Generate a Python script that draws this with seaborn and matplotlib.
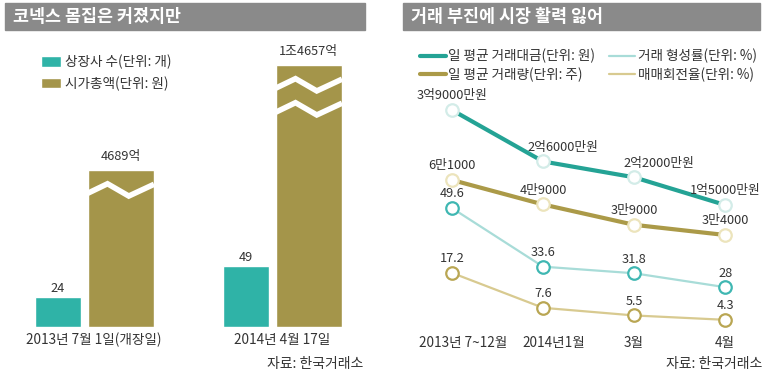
import numpy as np
import pandas as pd
import seaborn as sns
import matplotlib.pyplot as plt
from matplotlib.patches import Rectangle, Patch
from matplotlib.lines import Line2D
from matplotlib import transforms

sns.set_theme(style='white')
plt.rcParams['font.family'] = ['Noto Sans CJK KR', 'DejaVu Sans']

#%%-----------------------------------------------------------------------
# data - left panel (bars)
dates = ['2013년 7월 1일(개장일)', '2014년 4월 17일']
listed = [24, 49]                  # 개
mcap = [4689, 14657]               # 억원
mcap_labels = ['4689억', '1조4657억']

# data - right panel (lines)
periods = ['2013년 7~12월', '2014년1월', '3월', '4월']
trade_value = [39000, 26000, 22000, 15000]      # 만원
trade_value_labels = ['3억9000만원', '2억6000만원', '2억2000만원', '1억5000만원']
trade_volume = [61000, 49000, 39000, 34000]     # 주
trade_volume_labels = ['6만1000', '4만9000', '3만9000', '3만4000']
form_rate = [49.6, 33.6, 31.8, 28]              # %
turnover = [17.2, 7.6, 5.5, 4.3]                # %

#%%-----------------------------------------------------------------------
# colours / sizes
TEAL = '#2fb3a7'
GOLD = '#a4954a'
TEAL_DARK = '#24a395'
TEAL_LIGHT = '#a8dcd8'
GOLD_LINE = '#ab9a48'
GOLD_LIGHT = '#d8ca90'
GREY = '#8a8a8a'
TXT = '#333333'
FS_TICK = 9.8
FS_VAL = 9.2
FS_LEG = 9.8

W, H = 767, 373
fig = plt.figure(figsize=(W / 100, H / 100), dpi=100)


def fbox(x0, y0, x1, y1):
    # pixel box (origin top-left) -> figure fraction rect
    return [x0 / W, 1 - y1 / H, (x1 - x0) / W, (y1 - y0) / H]


def real_bars(a):
    # bars drawn by seaborn, left to right
    bars = [p for p in a.patches if isinstance(p, Rectangle) and p.get_height() > 0]
    return sorted(bars, key=lambda p: p.get_x())


# title bars
for x0, x1, title in [(5, 365, '코넥스 몸집은 커졌지만'), (403, 760, '거래 부진에 시장 활력 잃어')]:
    fig.patches.append(Rectangle((x0 / W, 1 - 30 / H), (x1 - x0) / W, 27 / H,
                                 transform=fig.transFigure, color=GREY, zorder=0))
    fig.text((x0 + 8) / W, 1 - 16.5 / H, title, color='white', fontsize=12.5,
             fontweight='bold', va='center', ha='left')

#%%-----------------------------------------------------------------------
# left panel: bar chart (gold bars on a compressed, "broken" scale)
ax = fig.add_axes(fbox(0, 60, 376, 327))
ax2 = ax.twinx()
hue_order = ['상장사 수', '시가총액']
pal = {'상장사 수': TEAL, '시가총액': GOLD}

df_cnt = pd.DataFrame({'date': dates, 'series': '상장사 수', 'value': listed})
df_cap = pd.DataFrame({'date': dates, 'series': '시가총액', 'value': mcap})

sns.barplot(data=df_cnt, x='date', y='value', hue='series', hue_order=hue_order,
            order=dates, palette=pal, width=0.72, gap=0.06, dodge=True,
            saturation=1, legend=False, ax=ax)
sns.barplot(data=df_cap, x='date', y='value', hue='series', hue_order=hue_order,
            order=dates, palette=pal, width=0.72, gap=0.06, dodge=True,
            saturation=1, legend=False, ax=ax2)

PW = 0.45
ax2.set_yscale('function', functions=(lambda v: np.power(np.clip(v, 0, None), PW),
                                      lambda v: np.power(np.clip(v, 0, None), 1 / PW)))
ax.set_ylim(0, 214)
ax2.set_ylim(0, 15290)
ax.set_xlim(-0.5, 1.5)

cnt_bars = real_bars(ax)
cap_bars = real_bars(ax2)

# teal bars are narrower than the gold ones, gold sits closer to teal
for p in cnt_bars:
    w = p.get_width()
    p.set_width(w * 0.72)
    p.set_x(p.get_x() + w * 0.1)
for p in cap_bars:
    p.set_x(p.get_x() - 0.045)
    p.set_width(p.get_width() + 0.015)

for a, bars, labs, pad in [(ax, cnt_bars, [str(v) for v in listed], 1.5),
                           (ax2, cap_bars, mcap_labels, 5)]:
    for p, lab in zip(bars, labs):
        a.annotate(lab, (p.get_x() + p.get_width() / 2, p.get_height()),
                   xytext=(0, pad), textcoords='offset points', ha='center',
                   va='bottom', fontsize=FS_VAL, color=TXT, annotation_clip=False)

# white zig-zag "break" marks on the gold bars
trans = transforms.blended_transform_factory(ax2.transData, ax2.transAxes)
for bar, n in zip(cap_bars, [1, 2]):
    x0, w, h = bar.get_x(), bar.get_width(), bar.get_height()
    top = ax2.transAxes.inverted().transform(ax2.transData.transform((x0, h)))[1]
    for k in range(n):
        yc = top - (0.075 + 0.09 * k)
        xs = x0 + w * np.array([0, 0.3, 0.62, 1.0])
        ys = yc + np.array([-0.012, 0.024, -0.022, 0.022])
        ax2.plot(xs, ys, color='white', lw=4, transform=trans, zorder=5,
                 solid_joinstyle='miter', solid_capstyle='butt')

for a in (ax, ax2):
    a.set_xlabel('')
    a.set_ylabel('')
    a.set_yticks([])
    for s in a.spines.values():
        s.set_visible(False)
ax.tick_params(axis='x', length=0, pad=4, labelsize=FS_TICK, labelcolor=TXT)

fig.legend(handles=[Patch(facecolor=TEAL), Patch(facecolor=GOLD)],
           labels=['상장사 수(단위: 개)', '시가총액(단위: 원)'],
           loc='upper left', bbox_to_anchor=(34 / W, 1 - 48 / H),
           frameon=False, fontsize=FS_LEG, handlelength=1.5, handleheight=0.8,
           labelspacing=0.5, borderpad=0, handletextpad=0.25,
           labelcolor=TXT)

fig.text(363 / W, 1 - 364 / H, '자료: 한국거래소', ha='right', va='center',
         fontsize=10, color=TXT)

#%%-----------------------------------------------------------------------
# right panel: four lines, each on its own (hidden) scale
x_idx = np.arange(len(periods))
axr = fig.add_axes(fbox(411, 95, 757, 330))
ax_vol = axr.twinx()
ax_form = axr.twinx()
ax_turn = axr.twinx()

series = [
    (ax_turn, turnover, [f'{v:g}' for v in turnover], GOLD_LIGHT, 1.6, '#b9a653', (1.5, 66.1), [0, 0, 0, 0]),
    (ax_form, form_rate, [f'{v:g}' for v in form_rate], TEAL_LIGHT, 1.6, '#3fb7b2', (16.3, 80.5), [0, 0, 0, 0]),
    (ax_vol, trade_volume, trade_volume_labels, GOLD_LINE, 3, '#ece4bc', (-12640, 102730), [0, 0, 0, 0]),
    (axr, trade_value, trade_value_labels, TEAL_DARK, 3, '#d3ece8', (-16600, 42800), [0, 14, 18, 0]),
]

for a, vals, labs, col, lw, mec, ylim, dxs in series:
    sns.lineplot(x=x_idx, y=vals, ax=a, color=col, linewidth=lw, marker='o',
                 markersize=9, markerfacecolor='white', markeredgecolor=mec,
                 markeredgewidth=1.6)
    a.set_ylim(*ylim)
    for xi, v, lab, dx in zip(x_idx, vals, labs, dxs):
        a.annotate(lab, (xi, v), xytext=(dx, 5.5), textcoords='offset points',
                   ha='center', va='bottom', fontsize=FS_VAL, color=TXT,
                   annotation_clip=False)
    a.set_yticks([])
    a.set_ylabel('')
    for s in a.spines.values():
        s.set_visible(False)

axr.set_xlim(-0.45, 3.35)
axr.set_xticks(x_idx, periods)
axr.tick_params(axis='x', length=0, pad=4, labelsize=FS_TICK, labelcolor=TXT)
axr.set_xlabel('')
# first two period labels sit a little right of their points
shift = transforms.ScaledTranslation(0.11, 0, fig.dpi_scale_trans)
for lab in axr.get_xticklabels()[:2]:
    lab.set_transform(lab.get_transform() + shift)

leg_handles = [Line2D([], [], color=TEAL_DARK, lw=3),
               Line2D([], [], color=GOLD_LINE, lw=3),
               Line2D([], [], color=TEAL_LIGHT, lw=1.6),
               Line2D([], [], color=GOLD_LIGHT, lw=1.6)]
leg_labels = ['일 평균 거래대금(단위: 원)', '일 평균 거래량(단위: 주)',
              '거래 형성률(단위: %)', '매매회전율(단위: %)']
fig.legend(handles=leg_handles, labels=leg_labels, ncol=2,
           loc='upper left', bbox_to_anchor=(413 / W, 1 - 42 / H),
           frameon=False, fontsize=FS_LEG, handlelength=1.9, labelspacing=0.3,
           borderpad=0, handletextpad=0.2, columnspacing=1.0, labelcolor=TXT)

fig.text(762 / W, 1 - 364 / H, '자료: 한국거래소', ha='right', va='center',
         fontsize=10, color=TXT)

plt.savefig('out.png', dpi=100)
